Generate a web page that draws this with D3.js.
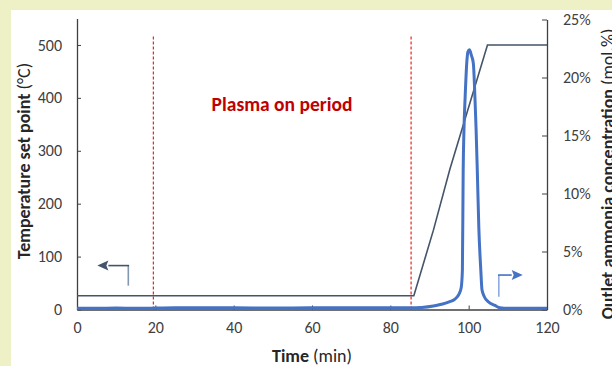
<!DOCTYPE html>
<html>
<head>
<meta charset="utf-8">
<script src="https://cdn.jsdelivr.net/npm/d3@7"></script>
<style>
  html, body { margin: 0; padding: 0; background: #eef0c6; }
  svg { display: block; }
  text { font-family: Carlito, Lato, "Open Sans", sans-serif; }
</style>
</head>
<body>
<svg id="chart" width="612" height="366"></svg>
<script>
// ---------- data ----------
const xTicks = [0, 20, 40, 60, 80, 100, 120];
const tempTicks = [0, 100, 200, 300, 400, 500];
const nh3Ticks = [0, 0.05, 0.10, 0.15, 0.20, 0.25];

// Temperature set point (°C) vs time (min)
const tempTime  = [0, 86, 91, 95.2, 104.8, 120];
const tempValue = [26, 26, 150, 265, 500, 500];

// Outlet ammonia concentration (fraction) vs time (min)
const nh3Time = [0, 5, 10, 15, 20, 25, 30, 40, 50, 60, 70, 80, 85, 88, 91, 93, 95, 96.5, 97.5, 98.1,
                 98.4, 98.6, 98.8, 99.1, 99.5, 99.8, 100.2, 100.7, 101.2, 101.6, 101.9, 102.2, 102.6,
                 103.1, 103.4, 104, 105, 106.7, 108, 110, 115, 120];
const nh3Value = [0.001, 0.001, 0.0012, 0.001, 0.0012, 0.0015, 0.0015, 0.0015, 0.0012, 0.0015, 0.0015, 0.0015,
                  0.0015, 0.0018, 0.003, 0.0045, 0.0065, 0.009, 0.013, 0.019,
                  0.034, 0.12, 0.155, 0.183, 0.212, 0.222, 0.224, 0.219, 0.212, 0.183, 0.155, 0.12, 0.07,
                  0.034, 0.017, 0.011, 0.0067, 0.0035, 0.0015, 0.001, 0.001, 0.001];

// Plasma on period boundaries (min) and their top (°C)
const plasmaBounds = [19.5, 85.3];
const plasmaTop = 516;
const plasmaLabel = "Plasma on period";

// Series-indicator arrows (data units): corner, start of stem, tip
const leftArrowTime = [13.1, 13.1, 5.2];
const leftArrowTemp = [45, 83, 83];
const rightArrowTime = [107.7, 107.7, 113.8];
const rightArrowNh3 = [0.011, 0.0297, 0.0297];

// ---------- drawing ----------
const svg = d3.select("#chart");
const W = 612, H = 366;

svg.append("rect").attr("x", 11).attr("y", 10).attr("width", W - 11).attr("height", H - 10).attr("fill", "#ffffff");

const x = d3.scaleLinear().domain([0, 120]).range([77, 547]);
const yL = d3.scaleLinear().domain([0, 550]).range([309.5, 18.5]);
const yR = d3.scaleLinear().domain([0, 0.25]).range([309.5, 19.5]);

const axisColor = "#404040";
const labelColor = "#404040";

function styleAxis(g) {
  g.select(".domain").attr("stroke", axisColor).attr("stroke-width", 1.3);
  g.selectAll(".tick line").attr("stroke", axisColor).attr("stroke-width", 1);
  g.selectAll(".tick text").attr("fill", labelColor).attr("font-size", 16)
    .style("font-family", "Carlito, Lato, sans-serif");
}

// x axis
const gx = svg.append("g").attr("transform", `translate(0,${yL(0)})`)
  .call(d3.axisBottom(x).tickValues(xTicks).tickSizeInner(-4).tickSizeOuter(0).tickPadding(12).tickFormat(d3.format("d")));
styleAxis(gx);

// left axis
const gl = svg.append("g").attr("transform", `translate(${x(0)},0)`)
  .call(d3.axisLeft(yL).tickValues(tempTicks).tickSizeInner(-4).tickSizeOuter(0).tickPadding(15).tickFormat(d3.format("d")));
styleAxis(gl);

// right axis
const gr = svg.append("g").attr("transform", `translate(${x(120)},0)`)
  .call(d3.axisRight(yR).tickValues(nh3Ticks).tickSizeInner(-5).tickSizeOuter(0).tickPadding(16).tickFormat(d3.format(".0%")));
styleAxis(gr);

// plasma dashed lines
svg.append("g").selectAll("line").data(plasmaBounds).join("line")
  .attr("x1", d => x(d)).attr("x2", d => x(d))
  .attr("y1", yL(0)).attr("y2", yL(plasmaTop))
  .attr("stroke", "#e8231e").attr("stroke-width", 1.2).attr("stroke-dasharray", "3,2");

// temperature line
const tempData = tempTime.map((t, i) => [t, tempValue[i]]);
svg.append("path").datum(tempData)
  .attr("fill", "none").attr("stroke", "#44546a").attr("stroke-width", 1.6)
  .attr("d", d3.line().x(d => x(d[0])).y(d => yL(d[1])));

// ammonia line
const nh3Data = nh3Time.map((t, i) => [t, nh3Value[i]]);
svg.append("path").datum(nh3Data)
  .attr("fill", "none").attr("stroke", "#4472c4").attr("stroke-width", 3)
  .attr("stroke-linejoin", "round")
  .attr("d", d3.line().curve(d3.curveMonotoneX).x(d => x(d[0])).y(d => yR(d[1])));

// plasma label
svg.append("text").attr("x", 282).attr("y", 111)
  .attr("text-anchor", "middle").attr("font-weight", "bold").attr("font-size", 19.5)
  .attr("fill", "#c00000").text(plasmaLabel);

// arrows
function drawArrow(pts, stemColor, color) {
  const [p0, p1, p2] = pts;
  svg.append("line").attr("x1", p0[0]).attr("y1", p0[1]).attr("x2", p1[0]).attr("y2", p1[1])
    .attr("stroke", stemColor).attr("stroke-width", 1.6);
  const dir = Math.sign(p2[0] - p1[0]);
  const base = p2[0] - dir * 11;
  svg.append("line").attr("x1", p1[0] - dir * 0.8).attr("y1", p1[1]).attr("x2", base).attr("y2", p2[1])
    .attr("stroke", color).attr("stroke-width", 1.6);
  svg.append("path")
    .attr("d", `M${p2[0]},${p2[1]} L${base},${p2[1] - 5} L${base + dir * 2},${p2[1]} L${base},${p2[1] + 5} Z`)
    .attr("fill", color);
}
drawArrow(leftArrowTime.map((t, i) => [x(t), yL(leftArrowTemp[i])]), "#8497b0", "#44546a");
drawArrow(rightArrowTime.map((t, i) => [x(t), yR(rightArrowNh3[i])]), "#8fabe0", "#4472c4");

// axis titles
const xt = svg.append("text").attr("x", 312).attr("y", 362).attr("text-anchor", "middle")
  .attr("font-size", 18).attr("fill", "#262626");
xt.append("tspan").attr("font-weight", "bold").text("Time");
xt.append("tspan").text(" (min)");

const lt = svg.append("text").attr("transform", "translate(30,161) rotate(-90)").attr("text-anchor", "middle")
  .attr("font-size", 18).attr("fill", "#262626");
lt.append("tspan").attr("font-weight", "bold").text("Temperature set point");
lt.append("tspan").text(" (°C)");

const rt = svg.append("text").attr("transform", "translate(614,174) rotate(-90)").attr("text-anchor", "middle")
  .attr("font-size", 18).attr("fill", "#262626");
rt.append("tspan").attr("font-weight", "bold").text("Outlet ammonia concentration");
rt.append("tspan").text(" (mol.%)");
</script>
</body>
</html>
